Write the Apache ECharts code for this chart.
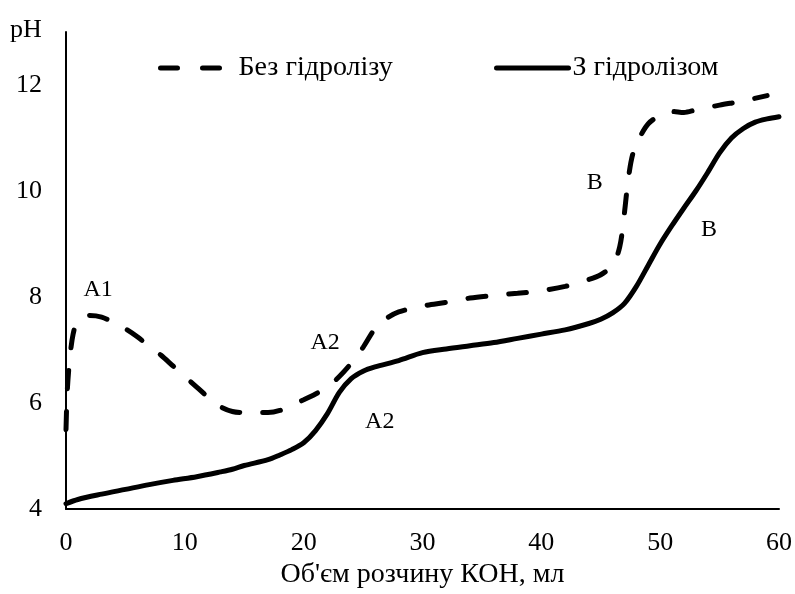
<!DOCTYPE html>
<html><head><meta charset="utf-8">
<script src="https://cdn.jsdelivr.net/npm/echarts@6/dist/echarts.min.js"></script>
<style>html,body{margin:0;padding:0;background:#fff}#c{width:795px;height:594px}</style>
</head><body><div id="c"></div>
<script>
const seriesNames = ['Без гідролізу', 'З гідролізом'];
const withoutHydrolysis = [
  [0,5.5],[0.1,6.2],[0.3,6.8],[0.6,7.3],[1,7.55],[2,7.65],[3,7.62],[4,7.52],[5,7.4],[6,7.25],[7,7.07],[8,6.9],
  [9,6.7],[10,6.5],[11,6.3],[12,6.1],[13,5.93],[14,5.84],[15,5.82],[16,5.82],[17,5.82],[18,5.86],[19,5.96],
  [20,6.06],[21,6.17],[22,6.3],[23,6.5],[24,6.75],[25,7.05],[26,7.4],[27,7.6],[28,7.72],[30,7.83],[32,7.9],
  [34,7.98],[36,8.03],[38,8.07],[40,8.12],[42,8.2],[44,8.33],[45,8.42],[46,8.6],[46.6,8.95],[47,9.6],
  [47.3,10.2],[47.7,10.7],[48.3,11.02],[49,11.27],[50,11.43],[51,11.5],[52,11.48],[53,11.53],[55,11.62],
  [57,11.7],[59,11.8]
];
const withHydrolysis = [
  [0,4.1],[1,4.18],[3,4.28],[5,4.37],[7,4.46],[9,4.54],[11,4.61],[13,4.7],[14,4.75],[15,4.82],[17,4.93],
  [18,5.02],[19,5.12],[20,5.25],[21,5.48],[22,5.8],[23,6.2],[24,6.46],[25,6.6],[26,6.68],[28,6.8],
  [30,6.95],[32,7.02],[34,7.08],[36,7.14],[38,7.22],[40,7.3],[42,7.38],[44,7.5],[45,7.58],[46,7.7],
  [47,7.88],[48,8.2],[49,8.6],[50,9.0],[51,9.35],[52,9.68],[53,10.0],[54,10.35],[55,10.72],[56,11.0],
  [57,11.18],[58,11.3],[59,11.36],[60,11.4]
];
const xTicks = [0,10,20,30,40,50,60];
const yTicks = [4,6,8,10,12];
const annotationsDashed = [
  {name:'A1', coord:[2.7,8.13]},
  {name:'A2', coord:[21.8,7.13]},
  {name:'B', coord:[44.5,10.16]}
];
const annotationsSolid = [
  {name:'A2', coord:[26.4,5.64]},
  {name:'B', coord:[54.1,9.27]}
];

const FONT = 'Liberation Serif';
const chart = echarts.init(document.getElementById('c'), null, {renderer:'canvas'});
function mp(list){
  return {
    symbol:'circle', symbolSize:0, silent:true,
    label:{show:true, position:'inside', formatter:'{b}', color:'#000', fontFamily:FONT, fontSize:24},
    data:list.map(a=>({name:a.name, coord:a.coord}))
  };
}
chart.setOption({
  animation:false,
  backgroundColor:'#fff',
  textStyle:{fontFamily:FONT, color:'#000'},
  title:{text:'pH', left:10, top:17, padding:0, textStyle:{fontFamily:FONT, fontSize:26, fontWeight:'normal', color:'#000'}},
  grid:{left:66, width:714, top:32, height:481, containLabel:false},
  legend:[
    {data:[seriesNames[0]], left:158, top:54, padding:0, itemWidth:66, itemHeight:10, itemGap:0,
     itemStyle:{opacity:0},
     lineStyle:{width:5, type:[17,25], cap:'round', color:'#000'},
     textStyle:{fontFamily:FONT, fontSize:28, color:'#000', padding:[0,0,0,7]}},
    {data:[seriesNames[1]], left:494, top:54, padding:0, itemWidth:72, itemHeight:10, itemGap:0,
     itemStyle:{opacity:0},
     lineStyle:{width:5, type:'solid', cap:'round', color:'#000'},
     textStyle:{fontFamily:FONT, fontSize:28, color:'#000', padding:[0,0,0,-1]}}
  ],
  xAxis:{
    type:'value', min:xTicks[0], max:xTicks[xTicks.length-1], interval:10,
    name:'Об\'єм розчину КОН, мл', nameLocation:'middle', nameGap:52,
    nameTextStyle:{fontFamily:FONT, fontSize:28, color:'#000'},
    axisLine:{show:true, lineStyle:{color:'#000', width:2}},
    axisTick:{show:false}, splitLine:{show:false},
    axisLabel:{fontFamily:FONT, fontSize:26, color:'#000', margin:21}
  },
  yAxis:{
    type:'value', min:yTicks[0], max:13, interval:2,
    axisLine:{show:true, onZero:false, lineStyle:{color:'#000', width:2}},
    axisTick:{show:false}, splitLine:{show:false},
    axisLabel:{fontFamily:FONT, fontSize:26, color:'#000', margin:24,
      formatter:v=>yTicks.includes(v)?String(v):''}
  },
  series:[
    {name:seriesNames[0], type:'line', data:withoutHydrolysis, smooth:0.3,
     showSymbol:false, symbol:'none', symbolSize:0,
     lineStyle:{color:'#000', width:5, type:[18,23], cap:'round'}, itemStyle:{color:'#000'},
     markPoint:mp(annotationsDashed)},
    {name:seriesNames[1], type:'line', data:withHydrolysis, smooth:0.3,
     showSymbol:false, symbol:'none', symbolSize:0,
     lineStyle:{color:'#000', width:5, cap:'round'}, itemStyle:{color:'#000'},
     markPoint:mp(annotationsSolid)}
  ]
});
</script></body></html>
